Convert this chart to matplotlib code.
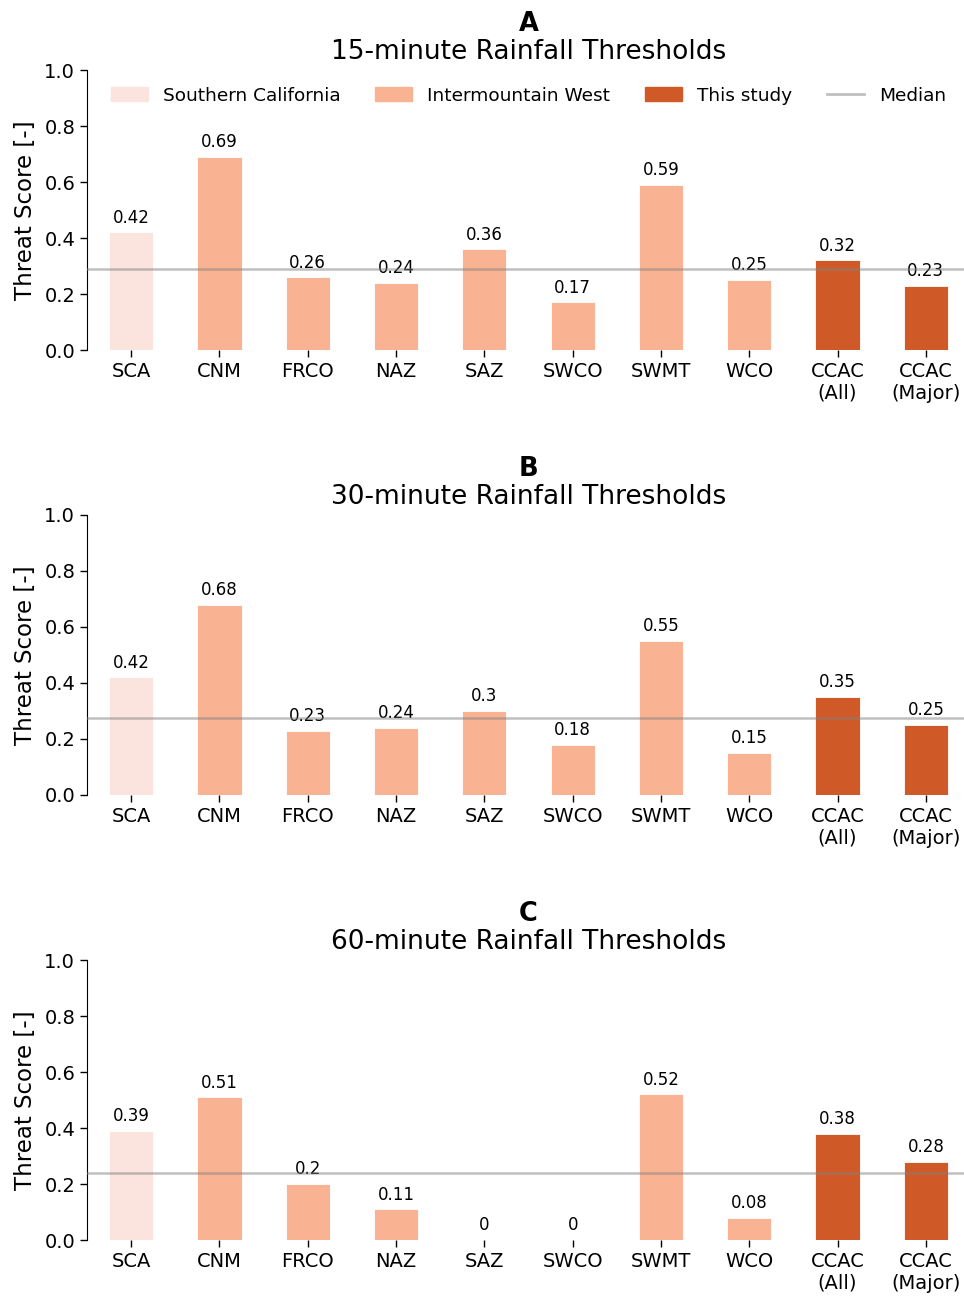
import matplotlib.pyplot as plt
import matplotlib.patches as mpatches
import matplotlib.lines as mlines
import numpy as np

# sites / regions
sites = ["SCA", "CNM", "FRCO", "NAZ", "SAZ", "SWCO", "SWMT", "WCO", "CCAC\n(All)", "CCAC\n(Major)"]
groups = ["Southern California", "Intermountain West", "Intermountain West", "Intermountain West",
          "Intermountain West", "Intermountain West", "Intermountain West", "Intermountain West",
          "This study", "This study"]

ts_15 = [0.42, 0.69, 0.26, 0.24, 0.36, 0.17, 0.59, 0.25, 0.32, 0.23]
ts_30 = [0.42, 0.68, 0.23, 0.24, 0.30, 0.18, 0.55, 0.15, 0.35, 0.25]
ts_60 = [0.39, 0.51, 0.20, 0.11, 0.00, 0.00, 0.52, 0.08, 0.38, 0.28]

panels = ["A", "B", "C"]
titles = ["15-minute Rainfall Thresholds", "30-minute Rainfall Thresholds", "60-minute Rainfall Thresholds"]

group_colors = {"Southern California": "#fce4de", "Intermountain West": "#f9b393", "This study": "#cf5a28"}


def draw_panel(ax, values, letter, title, legend=False):
    x = np.arange(len(sites))
    cols = [group_colors[g] for g in groups]
    bars = ax.bar(x, values, width=0.5, color=cols, edgecolor="white", linewidth=0.6)
    ax.bar_label(bars, labels=[f"{v:g}" for v in values], padding=4, fontsize=12)
    # median line sits on top of the bars
    ax.axhline(np.median(values), color="gray", alpha=0.5, lw=1.8, zorder=3)

    ax.set_xlim(-0.5, 9.5)
    ax.set_ylim(0, 1)
    ax.set_yticks(np.arange(0, 1.01, 0.2))
    ax.set_yticklabels([f"{t:.1f}" for t in np.arange(0, 1.01, 0.2)])
    ax.set_xticks(x)
    ax.set_xticklabels(sites)
    ax.tick_params(labelsize=14, length=5, width=1)
    ax.set_ylabel("Threat Score [-]", fontsize=16.5, labelpad=5)
    for s in ["top", "right", "bottom"]:
        ax.spines[s].set_visible(False)

    ax.text(0.5, 1.165, letter, transform=ax.transAxes, ha="center", va="center",
            fontsize=18.5, fontweight="bold")
    ax.text(0.5, 1.065, title, transform=ax.transAxes, ha="center", va="center", fontsize=19)

    if legend:
        handles = [mpatches.Patch(color=group_colors[g], label=g)
                   for g in ["Southern California", "Intermountain West", "This study"]]
        handles.append(mlines.Line2D([], [], color="gray", alpha=0.5, lw=2, label="Median"))
        ax.legend(handles=handles, ncol=4, frameon=False, fontsize=13.3, loc="upper center",
                  bbox_to_anchor=(0.5, 1.0), handlelength=2.0, handleheight=0.8,
                  columnspacing=1.9)


fig = plt.figure(figsize=(9.64, 12.97), dpi=100)
W = 964.0
H = 1297.0
left = 87 / W
width = (970 - 87) / W
height = 280 / H
tops = [70, 515, 960]

for i, (vals, letter, title) in enumerate(zip([ts_15, ts_30, ts_60], panels, titles)):
    bottom = 1 - (tops[i] + 280) / H
    ax = fig.add_axes([left, bottom, width, height])
    draw_panel(ax, vals, letter, title, legend=(i == 0))

fig.savefig("out.png", dpi=100)
